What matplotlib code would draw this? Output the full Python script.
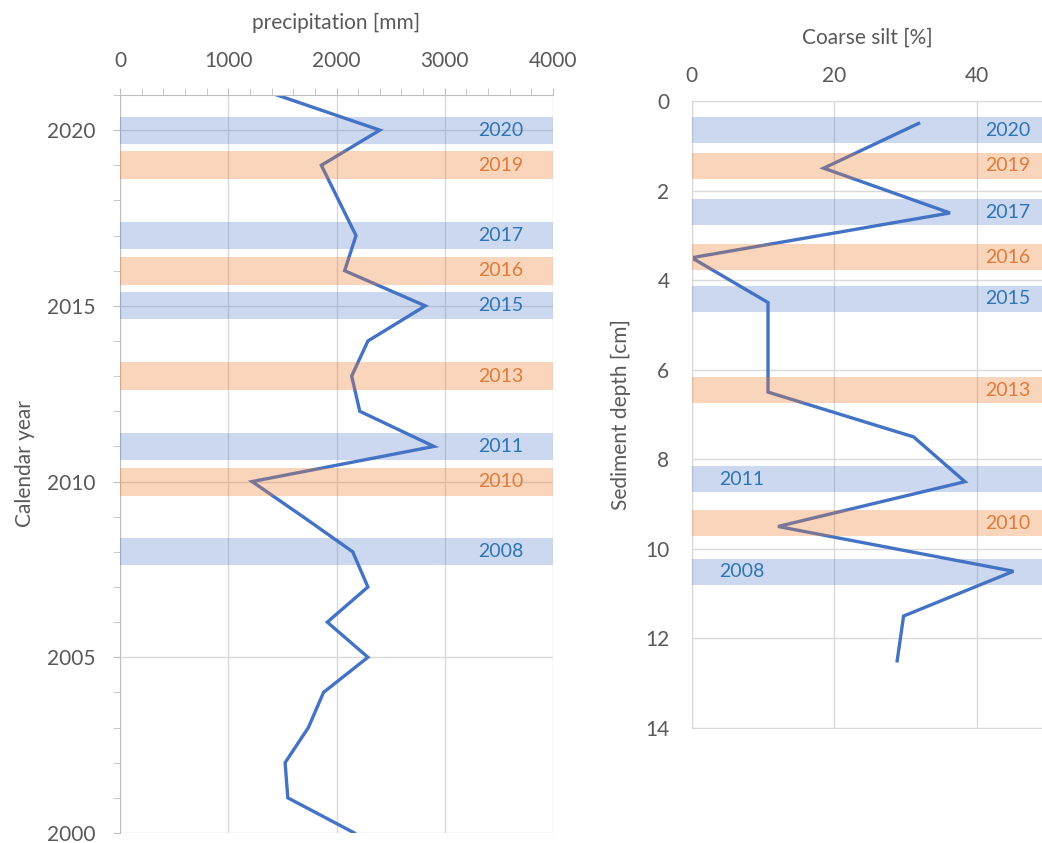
import matplotlib.pyplot as plt
from matplotlib.ticker import MultipleLocator

plt.rcParams["font.family"] = ["Lato", "DejaVu Sans"]

# Data: precipitation per calendar year
years = [2021, 2020, 2019, 2018, 2017, 2016, 2015, 2014, 2013, 2012, 2011,
         2010, 2009, 2008, 2007, 2006, 2005, 2004, 2003, 2002, 2001, 2000]
precip = [1450, 2400, 1860, 2020, 2180, 2075, 2820, 2290, 2140, 2215, 2900,
          1220, 1690, 2150, 2290, 1915, 2290, 1880, 1740, 1525, 1550, 2165]

# Data: coarse silt per sediment depth
depth = [0.5, 1.5, 2.5, 3.5, 4.5, 6.5, 7.5, 8.5, 9.5, 10.5, 11.5, 12.5]
silt = [31.8, 18.5, 36.2, 0.0, 10.7, 10.7, 31.1, 38.3, 12.1, 45.1, 29.7, 28.8]

# Highlighted years (blue = wet, orange = dry)
left_blue = [2020, 2017, 2015, 2011, 2008]
left_orange = [2019, 2016, 2013, 2010]
right_labels = ["2020", "2019", "2017", "2016", "2015", "2013", "2011", "2010", "2008"]
right_depths = [0.65, 1.45, 2.48, 3.49, 4.42, 6.46, 8.45, 9.43, 10.51]
right_kinds = ["b", "o", "b", "o", "b", "o", "b", "o", "b"]

LINE = "#4472c4"
BAND_B = "#4472c4"
BAND_O = "#ed7d31"
TXT_B = "#2e75b6"
TXT_O = "#e07b39"
GRID = "#d9d9d9"
GRAY = "#595959"

fig = plt.figure(figsize=(10.42, 8.43), dpi=100)

# ---- left panel
ax1 = fig.add_axes([0.1152, 0.0119, 0.4155, 0.8754])
ax1.plot(precip, years, color=LINE, lw=2.4, zorder=2, solid_joinstyle="miter")
for y in left_blue:
    ax1.axhspan(y - 0.38, y + 0.38, color=BAND_B, alpha=0.27, lw=0, zorder=3)
    ax1.text(3520, y, str(y), color=TXT_B, fontsize=14, ha="center", va="center", zorder=4)
for y in left_orange:
    ax1.axhspan(y - 0.4, y + 0.4, color=BAND_O, alpha=0.32, lw=0, zorder=3)
    ax1.text(3520, y, str(y), color=TXT_O, fontsize=14, ha="center", va="center", zorder=4)

ax1.set_xlim(0, 4000)
ax1.set_ylim(2000, 2021)
ax1.xaxis.tick_top()
ax1.xaxis.set_label_position("top")
ax1.xaxis.set_major_locator(MultipleLocator(1000))
ax1.xaxis.set_minor_locator(MultipleLocator(200))
ax1.yaxis.set_major_locator(MultipleLocator(5))
ax1.yaxis.set_minor_locator(MultipleLocator(1))
ax1.grid(True, which="major", color=GRID, lw=1, zorder=0)
ax1.set_xlabel("precipitation [mm]", color=GRAY, fontsize=15, labelpad=16)
ax1.set_ylabel("Calendar year", color=GRAY, fontsize=15, labelpad=8)
ax1.tick_params(which="major", colors=GRAY, labelsize=15)
ax1.tick_params(axis="x", which="major", length=5, color="#bfbfbf", pad=12)
ax1.tick_params(which="minor", length=5, color="#bfbfbf")
ax1.tick_params(axis="y", which="major", length=5, color="#bfbfbf", pad=13)
for s in ["right", "bottom"]:
    ax1.spines[s].set_visible(False)
for s in ["top", "left"]:
    ax1.spines[s].set_color("#bfbfbf")

# ---- right panel
ax2 = fig.add_axes([0.6638, 0.1364, 0.3362, 0.7438])
ax2.plot(silt, depth, color=LINE, lw=2.4, zorder=2, solid_joinstyle="miter")
for lab, d, k in zip(right_labels, right_depths, right_kinds):
    band = BAND_B if k == "b" else BAND_O
    txt = TXT_B if k == "b" else TXT_O
    ax2.axhspan(d - 0.29, d + 0.29, color=band, alpha=0.27 if k == "b" else 0.32,
                lw=0, zorder=3)
    xpos = 7 if lab in ("2011", "2008") else 44.3
    ax2.text(xpos, d, lab, color=txt, fontsize=14, ha="center", va="center", zorder=4)

ax2.set_xlim(0, 49.1)
ax2.set_ylim(14, 0)
ax2.xaxis.tick_top()
ax2.xaxis.set_label_position("top")
ax2.xaxis.set_major_locator(MultipleLocator(20))
ax2.yaxis.set_major_locator(MultipleLocator(2))
ax2.grid(True, color=GRID, lw=1, zorder=0)
ax2.set_xlabel("Coarse silt [%]", color=GRAY, fontsize=15, labelpad=16)
ax2.set_ylabel("Sediment depth [cm]", color=GRAY, fontsize=15, labelpad=10)
ax2.tick_params(colors=GRAY, labelsize=15, length=0, pad=11)
ax2.tick_params(axis="y", pad=16)
ax2.spines["right"].set_visible(False)
for s in ["top", "left", "bottom"]:
    ax2.spines[s].set_color(GRID)

fig.savefig("out.png", dpi=100)
